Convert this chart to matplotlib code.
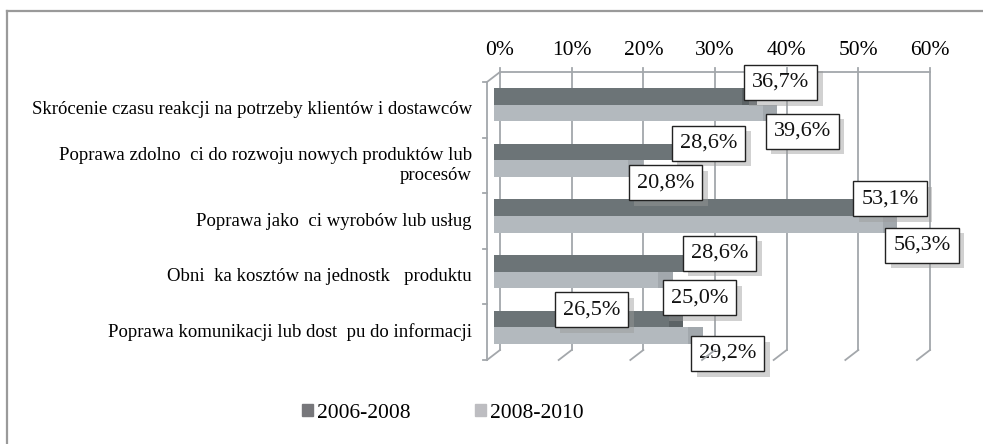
import matplotlib
matplotlib.use("Agg")
import matplotlib.pyplot as plt
from matplotlib.lines import Line2D
from matplotlib.patches import Patch
import matplotlib.transforms as mtransforms
import matplotlib.patheffects as pe

plt.rcParams['font.family'] = ['Liberation Serif', 'DejaVu Serif']

# data
categories = [
    "Skrócenie czasu reakcji na potrzeby klientów i dostawców",
    "Poprawa zdolno  ci do rozwoju nowych produktów lub\nprocesów",
    "Poprawa jako  ci wyrobów lub usług",
    "Obni  ka kosztów na jednostk   produktu",
    "Poprawa komunikacji lub dost  pu do informacji",
]
series_names = ["2006-2008", "2008-2010"]
v_2006_2008 = [36.7, 28.6, 53.1, 28.6, 26.5]
v_2008_2010 = [39.6, 20.8, 56.3, 25.0, 29.2]
ticks = [0, 10, 20, 30, 40, 50, 60]

# label box offsets from bar end (pixels, x right / y up)
off_dark = [(24, 14), (10, 9), (16, 9), (21, 10), (-92, 9)]
off_light = [(25, -18), (23, -14), (25, -21), (27, -18), (25, -18)]

dark = "#6c7477"
light = "#b3b9be"
grid_c = "#a3a7ab"

W, H = 983, 444
fig = plt.figure(figsize=(W / 100, H / 100), dpi=100)

# outer frame (only top and left visible)
fig.add_artist(Line2D([7 / W, 1], [1 - 11 / H, 1 - 11 / H], transform=fig.transFigure,
                      color="#9a9a9a", lw=1.6))
fig.add_artist(Line2D([7 / W, 7 / W], [0, 1 - 11 / H], transform=fig.transFigure,
                      color="#9a9a9a", lw=1.6))

# mid-depth plane of the 3D plot
left, right, top, bottom = 493.5, 923.5, 77, 355
ax = fig.add_axes([left / W, 1 - bottom / H, (right - left) / W, (bottom - top) / H])
ax.set_xlim(0, 60)
ax.set_ylim(4.5, -0.5)
ax.axis("off")

dx, dy = 6.5, 5.0
back = mtransforms.offset_copy(ax.transData, fig=fig, x=dx, y=dy, units="dots")
front = mtransforms.offset_copy(ax.transData, fig=fig, x=-dx, y=-dy, units="dots")

def px(x, y, ox, oy):
    X, Y = ax.transData.transform((x, y))
    return (X + ox) / W, (Y + oy) / H

# back wall gridlines + floor slants
for t in ticks:
    ax.plot([t, t], [4.5, -0.5], color=grid_c, lw=1.3, transform=back, zorder=1,
            clip_on=False)
    a = px(t, -0.5, dx, dy)
    fig.add_artist(Line2D([a[0], a[0]], [a[1], a[1] + 4 / H], transform=fig.transFigure,
                          color=grid_c, lw=1.3))
    p = px(t, 4.5, dx, dy)
    q = px(t, 4.5, -dx, -dy)
    fig.add_artist(Line2D([p[0], q[0]], [p[1], q[1]], transform=fig.transFigure,
                          color=grid_c, lw=1.3))
    lab = px(t, -0.5, dx, dy + 21)
    fig.text(lab[0], lab[1], f"{t}%", ha="center", va="center", fontsize=15.5)

# top edge of back wall
ax.plot([0, 60], [-0.5, -0.5], color=grid_c, lw=1.3, transform=back, clip_on=False)
# left wall front edge + slant
ax.plot([0, 0], [-0.5, 4.5], color=grid_c, lw=1.3, transform=front, clip_on=False)
p = px(0, -0.5, dx, dy)
q = px(0, -0.5, -dx, -dy)
fig.add_artist(Line2D([p[0], q[0]], [p[1], q[1]], transform=fig.transFigure,
                      color=grid_c, lw=1.3))
for k in range(6):
    a = px(0, k - 0.5, -dx, -dy)
    fig.add_artist(Line2D([a[0] - 4 / W, a[0]], [a[1], a[1]], transform=fig.transFigure,
                          color=grid_c, lw=1.3))

# bars
h = 0.3
y = list(range(len(categories)))
ax.barh([i - h / 2 for i in y], v_2006_2008, height=h, color=dark, zorder=3)
ax.barh([i + h / 2 for i in y], v_2008_2010, height=h, color=light, zorder=3)
# darker end caps for a bit of depth
for i in y:
    for v, yc, c in ((v_2006_2008[i], i - h / 2, "#5c6366"), (v_2008_2010[i], i + h / 2, "#a2a8ad")):
        ax.barh(yc, 2.0, left=v - 2.0, height=h, color=c, zorder=3)

# category labels
for i, name in enumerate(categories):
    a = px(0, i, -dx - 15, -dy)
    fig.text(a[0], a[1], name, ha="right", va="center", fontsize=13.5,
             multialignment="right", linespacing=1.25)

# data labels with drop shadows
shadow = [pe.withSimplePatchShadow(offset=(4, -4), shadow_rgbFace="#9a9a9a", alpha=0.45)]

def label(v, yc, off):
    txt = f"{v:.1f}%".replace(".", ",")
    t = ax.annotate(txt, (v, yc), xytext=off, textcoords="offset pixels",
                    ha="center", va="center", fontsize=16, color="#111111", zorder=6,
                    bbox=dict(boxstyle="square,pad=0.36", fc="white", ec="#222222", lw=1.0))
    t.get_bbox_patch().set_path_effects(shadow)

for i in y:
    label(v_2006_2008[i], i - h / 2, off_dark[i])
    label(v_2008_2010[i], i + h / 2, off_light[i])

handles = [Patch(color="#77777b"), Patch(color="#bdbdc1")]
fig.legend(handles, series_names, loc="center", bbox_to_anchor=(443 / W, 1 - 413 / H),
           ncol=2, frameon=False, fontsize=15.5, handlelength=0.5, handleheight=0.5,
           handletextpad=0.2, columnspacing=3.0)

fig.savefig("out.png", dpi=100)
